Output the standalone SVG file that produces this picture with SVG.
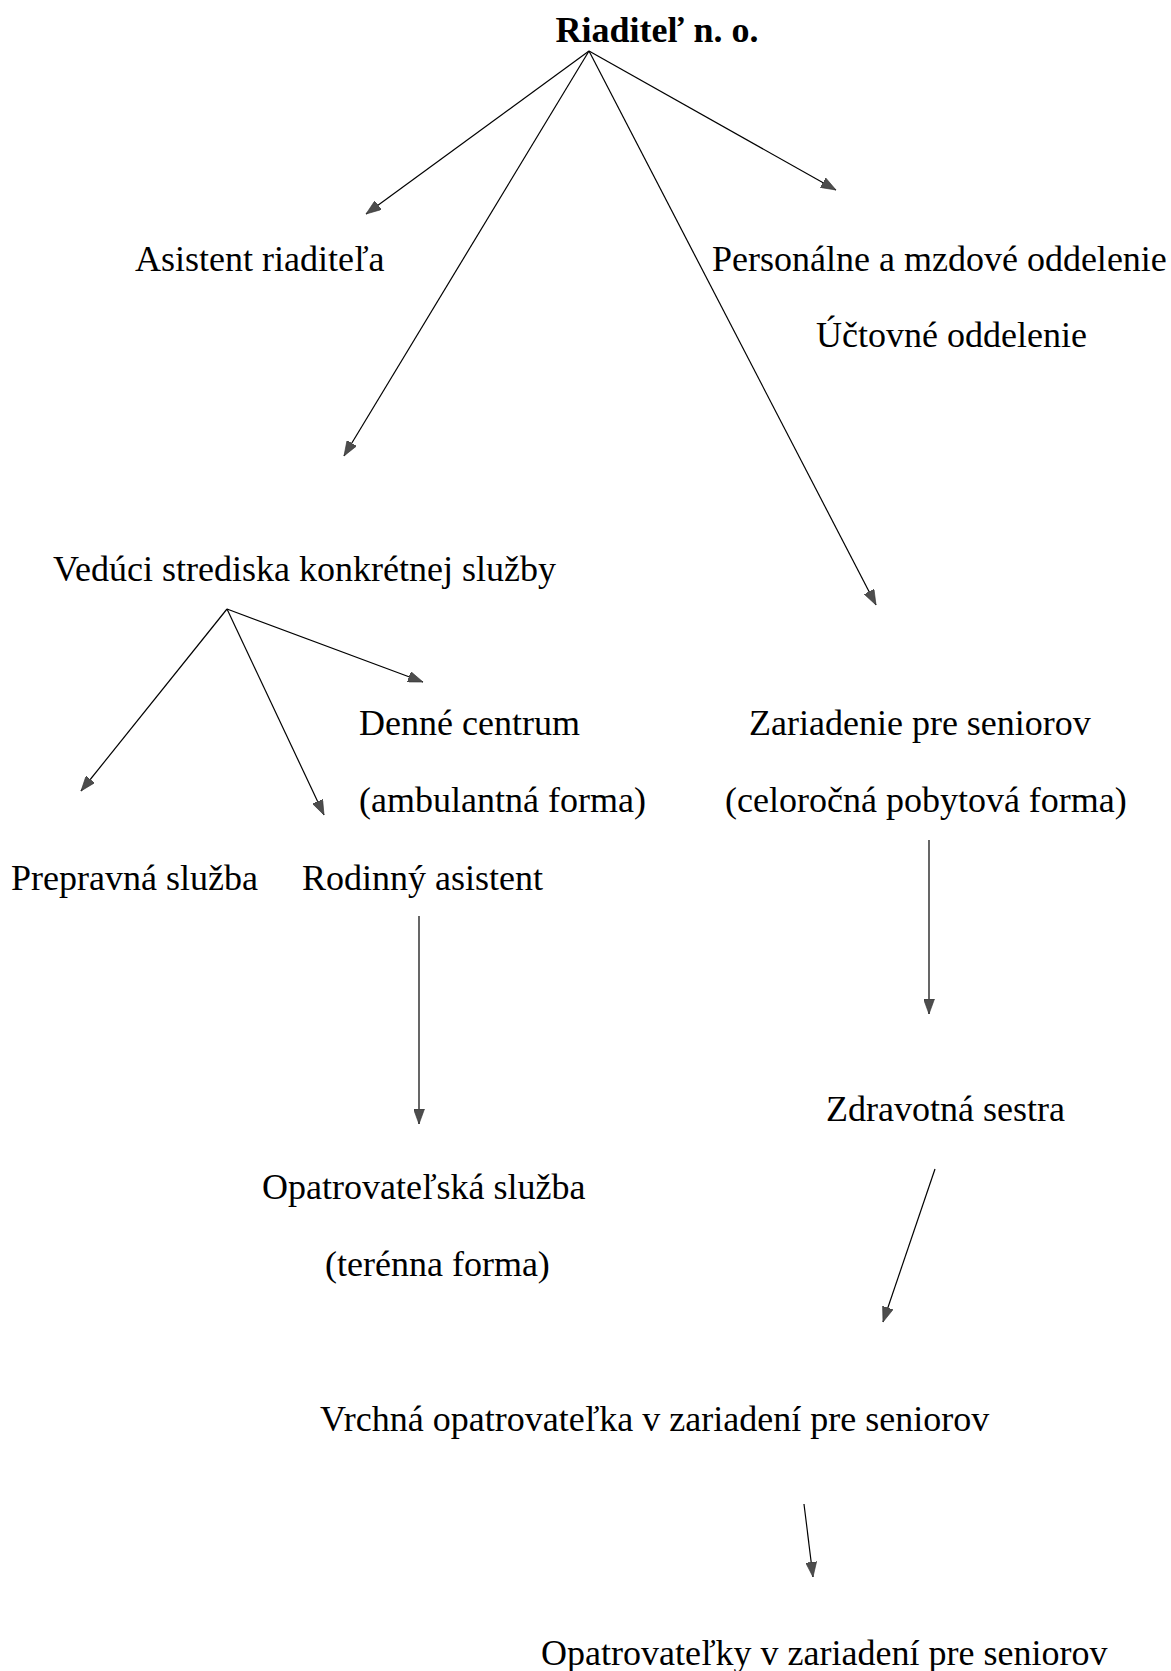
<svg xmlns="http://www.w3.org/2000/svg" width="1171" height="1671" viewBox="0 0 1171 1671">
<style>
text{font-family:"Liberation Serif","Times New Roman",serif;font-size:36px;fill:#000}
.b{font-weight:bold;font-size:36px}
.c line{stroke:#000;stroke-width:1.2;marker-end:url(#ah)}
</style>
<defs>
<marker id="ah" viewBox="0 0 15 11" refX="15" refY="5.5" markerWidth="15" markerHeight="11" markerUnits="userSpaceOnUse" orient="auto">
<path d="M0,0 L15,5.5 L0,11 Z" fill="#4d4d4d" stroke="#333" stroke-width="0.6"/>
</marker>
</defs>
<rect width="1171" height="1671" fill="#fff"/>
<g class="c" id="connectors">
<line x1="589" y1="51" x2="366" y2="214"/>
<line x1="589" y1="51" x2="344" y2="456"/>
<line x1="589" y1="51" x2="876" y2="605"/>
<line x1="589" y1="51" x2="836" y2="190"/>
<line x1="227" y1="609" x2="81" y2="791"/>
<line x1="227" y1="609" x2="324" y2="815"/>
<line x1="227" y1="609" x2="423" y2="682"/>
<line x1="419" y1="916" x2="419" y2="1124"/>
<line x1="929" y1="840" x2="929" y2="1014"/>
<line x1="935" y1="1169" x2="883" y2="1322"/>
<line x1="804" y1="1504" x2="813" y2="1577"/>
</g>
<g id="n-riaditel"><text class="b" x="657" y="42" text-anchor="middle">Riaditeľ n. o.</text></g>
<g id="n-asistent"><text x="135" y="271">Asistent riaditeľa</text></g>
<g id="n-personalne"><text x="712" y="271">Personálne a mzdové oddelenie</text></g>
<g id="n-uctovne"><text x="816" y="347">Účtovné oddelenie</text></g>
<g id="n-veduci"><text x="53" y="581">Vedúci strediska konkrétnej služby</text></g>
<g id="n-denne"><text x="359" y="735">Denné centrum</text><text x="359" y="812">(ambulantná forma)</text></g>
<g id="n-zariadenie"><text x="749" y="735">Zariadenie pre seniorov</text><text x="725" y="812">(celoročná pobytová forma)</text></g>
<g id="n-prepravna"><text x="11" y="890">Prepravná služba</text></g>
<g id="n-rodinny"><text x="302" y="890">Rodinný asistent</text></g>
<g id="n-zdravotna"><text x="826" y="1121">Zdravotná sestra</text></g>
<g id="n-opatrovatelska"><text x="262" y="1199">Opatrovateľská služba</text><text x="325" y="1276">(terénna forma)</text></g>
<g id="n-vrchna"><text x="320" y="1431">Vrchná opatrovateľka v zariadení pre seniorov</text></g>
<g id="n-opatrovatelky"><text x="541" y="1665">Opatrovateľky v zariadení pre seniorov</text></g>
</svg>
